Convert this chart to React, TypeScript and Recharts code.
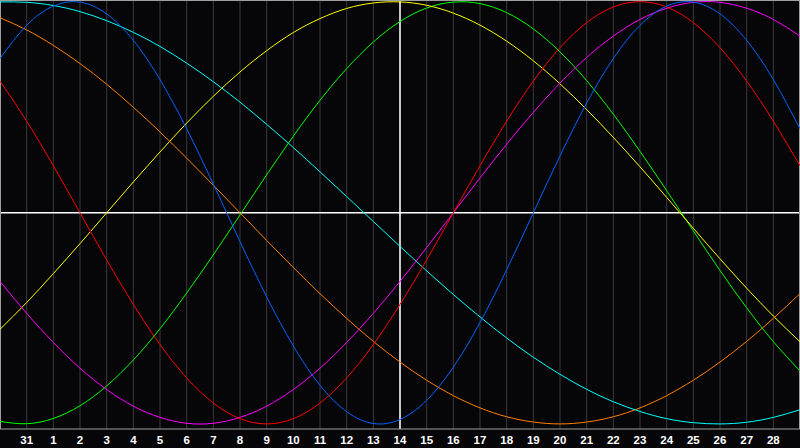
import { LineChart, Line, XAxis, YAxis, CartesianGrid, ReferenceLine } from "recharts";

// day labels for grid positions 0..30 (edges are 30 and 29, not labelled)
const DAYS = [
  "30", "31", "1", "2", "3", "4", "5", "6", "7", "8", "9", "10", "11", "12", "13", "14",
  "15", "16", "17", "18", "19", "20", "21", "22", "23", "24", "25", "26", "27", "28", "29",
];

// values in percent, read at each day gridline
const PHYSICAL = [73.1, 88.8, 97.9, 99.8, 94.2, 81.7, 63.1, 39.8, 13.6, -13.6, -39.8, -63.1, -81.7, -94.2, -99.8, -97.9, -88.8, -73.1, -52.0, -27.0, 0, 27.0, 52.0, 73.1, 88.8, 97.9, 99.8, 94.2, 81.7, 63.1, 39.8];
const EMOTIONAL = [62.4, 43.4, 22.3, 0, -22.3, -43.4, -62.4, -78.2, -90.1, -97.5, -100, -97.5, -90.1, -78.2, -62.4, -43.4, -22.3, 0, 22.3, 43.4, 62.4, 78.2, 90.1, 97.5, 100, 97.5, 90.1, 78.2, 62.4, 43.4, 22.3];
const INTELLECTUAL = [-98.8, -99.9, -97.4, -91.4, -82.0, -69.7, -54.9, -38.0, -19.9, -1.0, 18.0, 36.3, 53.3, 68.3, 80.9, 90.6, 97.0, 99.8, 99.1, 94.8, 87.1, 76.2, 62.6, 46.7, 29.1, 10.5, -8.6, -27.3, -45.0, -61.0, -74.9];
const INTUITIVE = [-32.5, -47.6, -61.4, -73.6, -83.7, -91.6, -96.9, -99.7, -99.7, -96.9, -91.6, -83.7, -73.6, -61.4, -47.6, -32.5, -16.5, 0, 16.5, 32.5, 47.6, 61.4, 73.6, 83.7, 91.6, 96.9, 99.7, 99.7, 96.9, 91.6, 83.7];
const AESTHETIC = [-55.2, -42.5, -28.8, -14.6, 0, 14.6, 28.8, 42.5, 55.2, 66.7, 76.8, 85.4, 92.0, 96.8, 99.4, 99.9, 98.3, 94.6, 88.9, 81.3, 72.0, 61.1, 48.9, 35.7, 21.8, 7.3, -7.3, -21.8, -35.7, -48.9, -61.1];
const AWARENESS = [92.4, 86.6, 79.3, 70.7, 60.9, 50.0, 38.3, 25.9, 13.1, 0, -13.1, -25.9, -38.3, -50.0, -60.9, -70.7, -79.3, -86.6, -92.4, -96.6, -99.1, -100, -99.1, -96.6, -92.4, -86.6, -79.3, -70.7, -60.9, -50.0, -38.3];
const SPIRITUAL = [99.9, 99.7, 98.2, 95.3, 91.0, 85.5, 78.8, 70.9, 62.1, 52.4, 41.9, 30.9, 19.4, 7.7, -4.1, -15.9, -27.5, -38.7, -49.3, -59.3, -68.4, -76.5, -83.6, -89.5, -94.1, -97.5, -99.4, -100, -99.2, -96.9, -93.3];

const SERIES = [
  { key: "intellectual", values: INTELLECTUAL, color: "#00ff00" },
  { key: "aesthetic", values: AESTHETIC, color: "#ffff00" },
  { key: "awareness", values: AWARENESS, color: "#ff8000" },
  { key: "spiritual", values: SPIRITUAL, color: "#00ffff" },
  { key: "intuitive", values: INTUITIVE, color: "#ff00ff" },
  { key: "emotional", values: EMOTIONAL, color: "#ff0000" },
  { key: "physical", values: PHYSICAL, color: "#0064ff" },
];

const TICKS = DAYS.map((_, i) => i).slice(1, -1);

const data = DAYS.map((day, i) => {
  const row: Record<string, number | string> = { k: i, day };
  SERIES.forEach((s) => {
    row[s.key] = s.values[i];
  });
  return row;
});

const BORDER = "#a0a0a0";

export default function App() {
  return (
    <div style={{ position: "fixed", left: 0, top: 0, width: 800, height: 448, background: "#060608" }}>
      <LineChart width={800} height={448} data={data} margin={{ top: 0, right: 0, bottom: 0, left: 0 }}>
        <CartesianGrid vertical horizontal={false} stroke="#3a3a3e" />
        <XAxis
          dataKey="k"
          type="number"
          domain={[0, 30]}
          ticks={TICKS}
          interval={0}
          height={19}
          tickLine={false}
          tickSize={6}
          tickMargin={1}
          axisLine={{ stroke: BORDER }}
          tickFormatter={(v: number) => DAYS[v]}
          tick={{ fill: "#ffffff", fontSize: 11.5, fontWeight: "bold", fontFamily: "Liberation Sans" }}
        />
        <YAxis hide type="number" domain={[-102.4, 100.8]} />
        <ReferenceLine y={0} stroke="#ffffff" strokeWidth={1.5} />
        <ReferenceLine x={15} stroke="#ffffff" strokeWidth={1.5} />
        <ReferenceLine x={0} stroke={BORDER} strokeWidth={2} />
        <ReferenceLine x={30} stroke={BORDER} strokeWidth={2} />
        <ReferenceLine y={100.8} stroke={BORDER} strokeWidth={2} />
        {SERIES.map((s) => (
          <Line
            key={s.key}
            type="natural"
            dataKey={s.key}
            stroke={s.color}
            strokeWidth={1}
            dot={false}
            activeDot={false}
            isAnimationActive={false}
          />
        ))}
      </LineChart>
    </div>
  );
}
